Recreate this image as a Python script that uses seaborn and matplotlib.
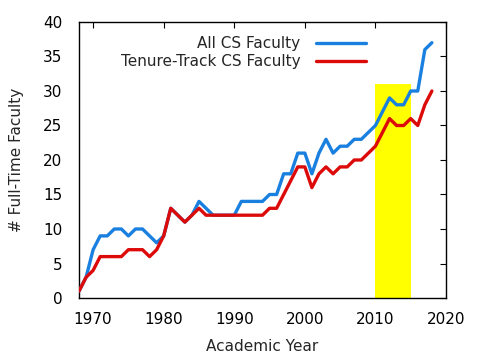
import matplotlib
matplotlib.use("Agg")
import matplotlib.pyplot as plt
import seaborn as sns
import pandas as pd
from matplotlib.patches import Rectangle

years = list(range(1968, 2019))
all_cs = [1, 3, 7, 9, 9, 10, 10, 9, 10, 10, 9, 8, 9, 13, 12, 11, 12, 14, 13, 12,
          12, 12, 12, 14, 14, 14, 14, 15, 15, 18, 18, 21, 21, 18, 21, 23, 21, 22, 22, 23,
          23, 24, 25, 27, 29, 28, 28, 30, 30, 36, 37]
tenure = [1, 3, 4, 6, 6, 6, 6, 7, 7, 7, 6, 7, 9, 13, 12, 11, 12, 13, 12, 12,
          12, 12, 12, 12, 12, 12, 12, 13, 13, 15, 17, 19, 19, 16, 18, 19, 18, 19, 19, 20,
          20, 21, 22, 24, 26, 25, 25, 26, 25, 28, 30]
series_names = ["All CS Faculty", "Tenure-Track CS Faculty"]
highlight_start, highlight_end, highlight_height = 2010, 2015, 31
x_ticks = [1970, 1980, 1990, 2000, 2010, 2020]
y_ticks = [0, 5, 10, 15, 20, 25, 30, 35, 40]

df = pd.DataFrame({
    "year": years * 2,
    "count": all_cs + tenure,
    "series": [series_names[0]] * len(years) + [series_names[1]] * len(years),
})

sns.set_style("white")
plt.rcParams["font.family"] = ["DejaVu Sans"]
plt.rcParams["font.size"] = 11

fig = plt.figure(figsize=(4.8, 3.6), dpi=100)
ax = fig.add_axes([79 / 480, 1 - 298 / 360, (446 - 79) / 480, (298 - 22) / 360])

ax.add_patch(Rectangle((highlight_start, 0), highlight_end - highlight_start,
                       highlight_height, facecolor="#ffff00", edgecolor="none", zorder=1))

sns.lineplot(data=df, x="year", y="count", hue="series",
             palette={series_names[0]: "#1a80e0", series_names[1]: "#dd0a0a"},
             linewidth=2.4, ax=ax, zorder=3)

ax.set_xlim(1968, 2020)
ax.set_ylim(0, 40)
ax.set_xticks(x_ticks)
ax.set_yticks(y_ticks)
ax.set_xlabel("Academic Year", fontsize=11, labelpad=9)
ax.set_ylabel("# Full-Time Faculty", fontsize=11, labelpad=14)
ax.tick_params(axis="both", direction="in", length=4, width=0.8, colors="black",
               top=True, right=True, labelsize=11)
ax.tick_params(axis="x", pad=10)
ax.tick_params(axis="y", pad=12)
for s in ax.spines.values():
    s.set_color("black")
    s.set_linewidth(1.0)

handles, labels = ax.get_legend_handles_labels()
leg = ax.legend(handles, labels, loc="upper right",
                bbox_to_anchor=(366 / 480, 1 - 36 / 360), bbox_transform=fig.transFigure,
                frameon=False, markerfirst=False, handlelength=3.3, handletextpad=1.0,
                borderpad=0, borderaxespad=0, labelspacing=0.2, fontsize=11)

fig.savefig("out.png", dpi=100)
